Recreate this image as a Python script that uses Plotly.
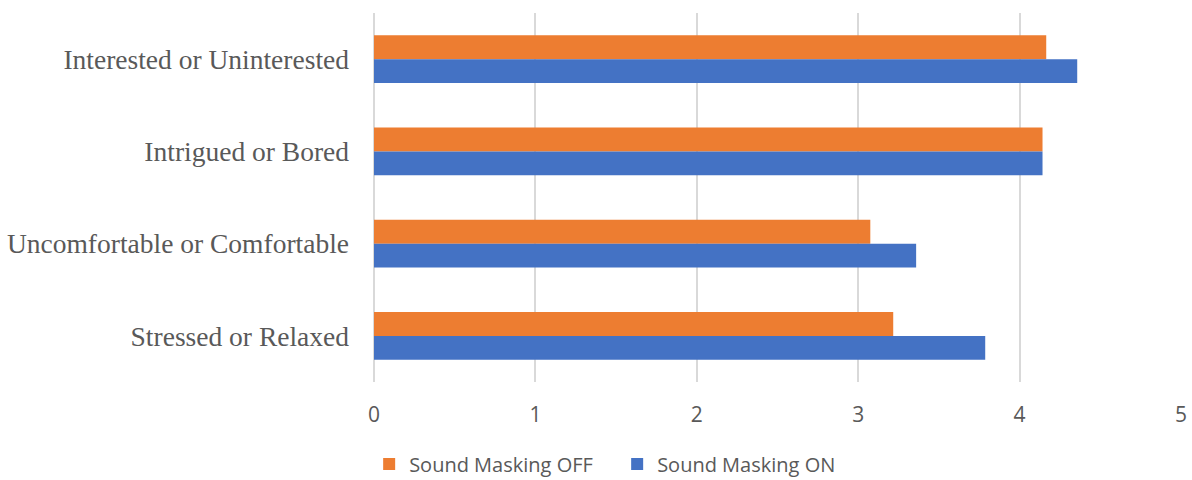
import plotly.graph_objects as go

categories = ["Interested or Uninterested", "Intrigued or Bored",
              "Uncomfortable or Comfortable", "Stressed or Relaxed"]
off_values = [4.165, 4.142, 3.075, 3.217]
on_values = [4.357, 4.142, 3.359, 3.787]
series_names = ["Sound Masking OFF", "Sound Masking ON"]
x_ticks = [0, 1, 2, 3, 4, 5]

fig = go.Figure()
fig.add_trace(go.Bar(y=categories, x=off_values, orientation="h", name=series_names[0],
                     marker=dict(color="#ED7D31", line=dict(width=0))))
fig.add_trace(go.Bar(y=categories, x=on_values, orientation="h", name=series_names[1],
                     marker=dict(color="#4472C4", line=dict(width=0))))

fig.update_layout(
    width=1192, height=480,
    margin=dict(l=374, r=11, t=13, b=98, autoexpand=False),
    plot_bgcolor="white", paper_bgcolor="white",
    barmode="group", bargap=0.48, bargroupgap=0,
    showlegend=True,
    legend=dict(orientation="h", x=-0.006, xanchor="left", y=-0.222, yanchor="middle",
                font=dict(family="Open Sans", size=20, color="#595959"),
                traceorder="normal", itemwidth=30, entrywidth=203),
    xaxis=dict(range=[0, 5], tickvals=x_ticks, showgrid=True, gridcolor="#D9D9D9", gridwidth=1.5,
               zeroline=True, zerolinecolor="#D9D9D9", zerolinewidth=1.5,
               tickfont=dict(family="Open Sans", size=21, color="#595959"),
               ticks="", ticklabelstandoff=18, showline=False),
    yaxis=dict(autorange="reversed", showgrid=False,
               tickfont=dict(family="Liberation Serif", size=27.5, color="#595959"),
               ticks="", ticklabelstandoff=24, showline=False),
)

fig.write_html("out.html", config={"displayModeBar": False},
               post_script="document.body.style.margin='0';document.body.style.overflow='hidden';")
